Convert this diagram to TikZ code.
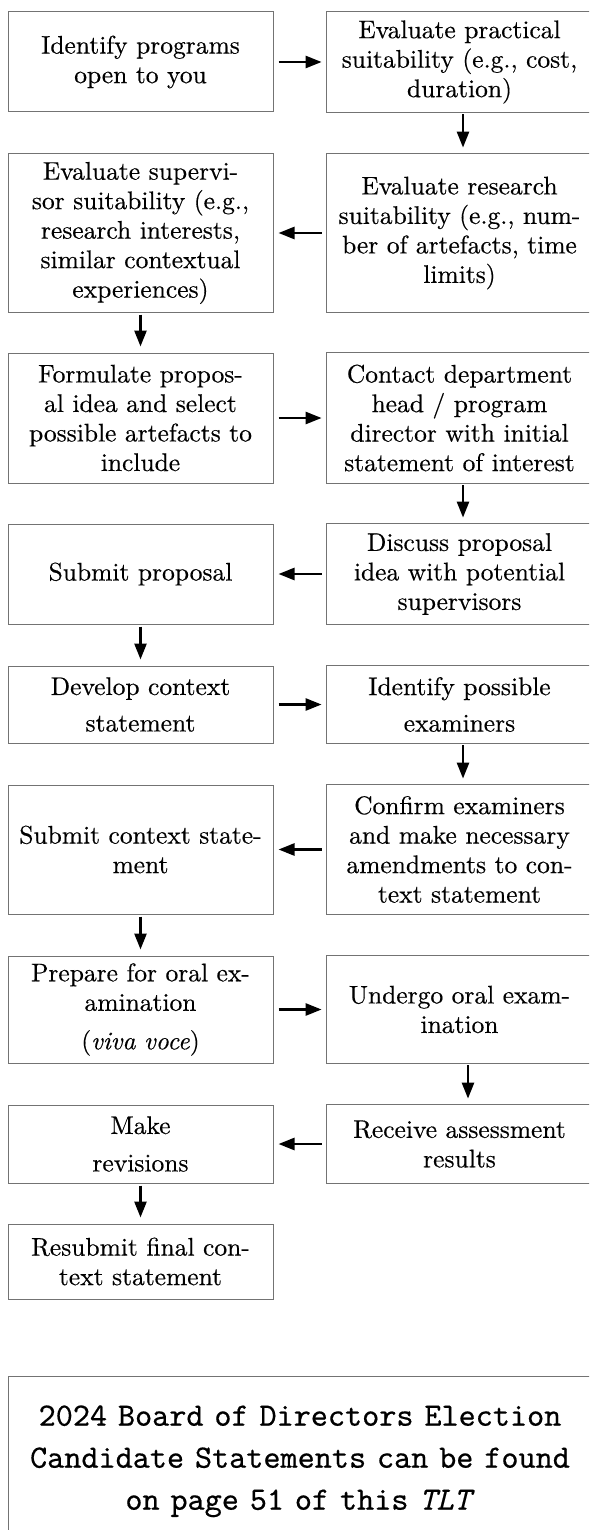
\documentclass[tikz,border=0pt]{standalone}
\usepackage{fontspec}
\setmainfont{lmroman10-regular.otf}[ItalicFont=lmroman10-italic.otf, FakeBold=0.4]
\setmonofont{lmmono10-regular.otf}[ItalicFont=lmmono10-italic.otf, FakeBold=0.45]
\usetikzlibrary{arrows.meta}

\tikzset{
	stepbox/.style={text width=130.5pt, inner xsep=1pt, inner ysep=0pt, align=center,
		font=\fontsize{12.75}{14.75}\selectfont},
	leftbox/.style={stepbox, draw=black!55, line width=0.5pt},
	frame/.style={draw=black!55, line width=0.5pt},
	flow/.style={line width=1.3pt, -{Triangle[length=8pt,width=6pt]}},
	across/.style={flow, shorten <=2.5pt, shorten >=2.5pt},
	down/.style={flow, shorten <=1pt, shorten >=3pt},
}

\begin{document}
\begin{tikzpicture}[x=0.5pt,y=-0.5pt]
		%%%%% START %%%%%
		\clip (0,0) rectangle (589,1530);
		
		\node[leftbox, minimum height=50pt] (l1) at (140.5,62) {Identify programs\\open to you};
		\node[stepbox, minimum height=50pt] (r1) at (459.5,62) {Evaluate practical\\suitability (e.g., cost,\\duration)};
		
		\node[leftbox, minimum height=79pt] (l2) at (140.5,233) {Evaluate supervi-\\sor suitability (e.g.,\\research interests,\\similar contextual\\experiences)};
		\node[stepbox, minimum height=79pt] (r2) at (459.5,233) {Evaluate research\\suitability (e.g., num-\\ber of artefacts, time\\limits)};
		
		\node[leftbox, minimum height=65pt] (l3) at (140.5,418) {Formulate propos-\\al idea and select\\possible artefacts to\\include};
		\node[stepbox, minimum height=65pt] (r3) at (459.5,418) {Contact department\\head / program\\director with initial\\statement of interest};
		
		\node[leftbox, minimum height=50pt] (l4) at (140.5,574) {Submit proposal};
		\node[stepbox, minimum height=50pt] (r4) at (459.5,574) {Discuss proposal\\idea with potential\\supervisors};
		
		\node[leftbox, minimum height=38.5pt] (l5) at (140.5,704.5) {Develop context\\[3.5pt]statement};
		\node[stepbox, minimum height=38.5pt] (r5) at (459.5,704.5) {Identify possible\\[3.5pt]examiners};
		
		\node[leftbox, minimum height=64.5pt] (l6) at (140.5,849.5) {Submit context state-\\ment};
		\node[stepbox, minimum height=64.5pt] (r6) at (459.5,849.5) {Confirm examiners\\and make necessary\\amendments to con-\\text statement};
		
		\node[leftbox, minimum height=53.5pt] (l7) at (140.5,1009.5) {Prepare for oral ex-\\amination\\[4.5pt](\textit{viva voce})};
		\node[stepbox, minimum height=53.5pt] (r7) at (459.5,1009.5) {Undergo oral exam-\\ination};
		
		\node[leftbox, minimum height=39pt] (l8) at (140.5,1144) {Make\\[4pt]revisions};
		\node[stepbox, minimum height=39pt] (r8) at (459.5,1144) {Receive assessment\\results};
		
		\node[leftbox, minimum height=37.5pt] (l9) at (140.5,1261.5) {Resubmit final con-\\text statement};
		
		% right column runs past the page edge
		\foreach \n in {r1,r2,r3,r4,r5,r6,r7,r8}
			\draw[frame] (\n.north west) rectangle ([xshift=20pt]\n.south east);
		
		\draw[across] (l1) -- (r1);
		\draw[down] ([xshift=1.75pt]r1.south) -- ([xshift=1.75pt]r2.north);
		\draw[across] (r2) -- (l2);
		\draw[down] (l2) -- (l3);
		\draw[across] (l3) -- (r3);
		\draw[down] ([xshift=1.75pt]r3.south) -- ([xshift=1.75pt]r4.north);
		\draw[across] (r4) -- (l4);
		\draw[down] (l4) -- (l5);
		\draw[across] (l5) -- (r5);
		\draw[down] ([xshift=1.75pt]r5.south) -- ([xshift=1.75pt]r6.north);
		\draw[across] (r6) -- (l6);
		\draw[down] (l6) -- (l7);
		\draw[across] (l7) -- (r7);
		\draw[down] ([xshift=4.25pt]r7.south) -- ([xshift=4.25pt]r8.north);
		\draw[across] (r8) -- (l8);
		\draw[down] (l8) -- (l9);
		
		% notice box
		\node[anchor=north, text width=280pt, inner xsep=5.5pt, inner ysep=14.5pt, align=center,
			font=\ttfamily\fontsize{16.3}{21}\selectfont] (note) at (300,1376)
			{2024 Board of Directors Election\\Candidate Statements can be found\\on page 51 of this \textit{TLT}};
		\draw[frame] (note.north west) rectangle ([xshift=20pt,yshift=-60pt]note.south east);
		
		%%%%% END %%%%%
\end{tikzpicture}
\end{document}
